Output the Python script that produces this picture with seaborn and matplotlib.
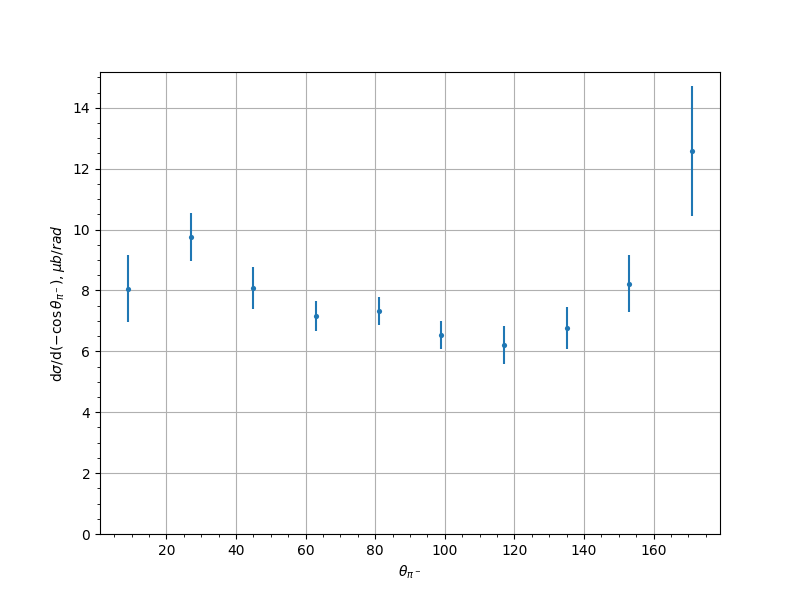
import matplotlib
matplotlib.use("Agg")
import matplotlib.pyplot as plt
import seaborn as sns
import pandas as pd

theta = [9, 27, 45, 63, 81, 99, 117, 135, 153, 171]
xsec = [8.05, 9.76, 8.08, 7.16, 7.33, 6.54, 6.21, 6.77, 8.22, 12.59]
err = [1.10, 0.78, 0.69, 0.50, 0.45, 0.45, 0.62, 0.69, 0.93, 2.13]

df = pd.DataFrame({"theta": theta, "xsec": xsec, "err": err})

plt.rcParams.update(plt.rcParamsDefault)
fig, ax = plt.subplots(figsize=(8, 6), dpi=100)
ax.errorbar(df["theta"], df["xsec"], yerr=df["err"], fmt="none", ecolor="#1f77b4", elinewidth=1.5)
sns.scatterplot(data=df, x="theta", y="xsec", ax=ax, marker="o", s=14, color="#1f77b4",
                linewidth=0, zorder=3)
ax.set_ylim(bottom=0)
ax.minorticks_on()
ax.grid(True, which="major")
ax.set_axisbelow(True)
ax.set_xlabel(r"$\theta_{\pi^-}$")
ax.set_ylabel(r"d$\sigma$/d$(-\cos\theta_{\pi^-}), \mu b/rad$")
fig.savefig("out.png", dpi=100)
